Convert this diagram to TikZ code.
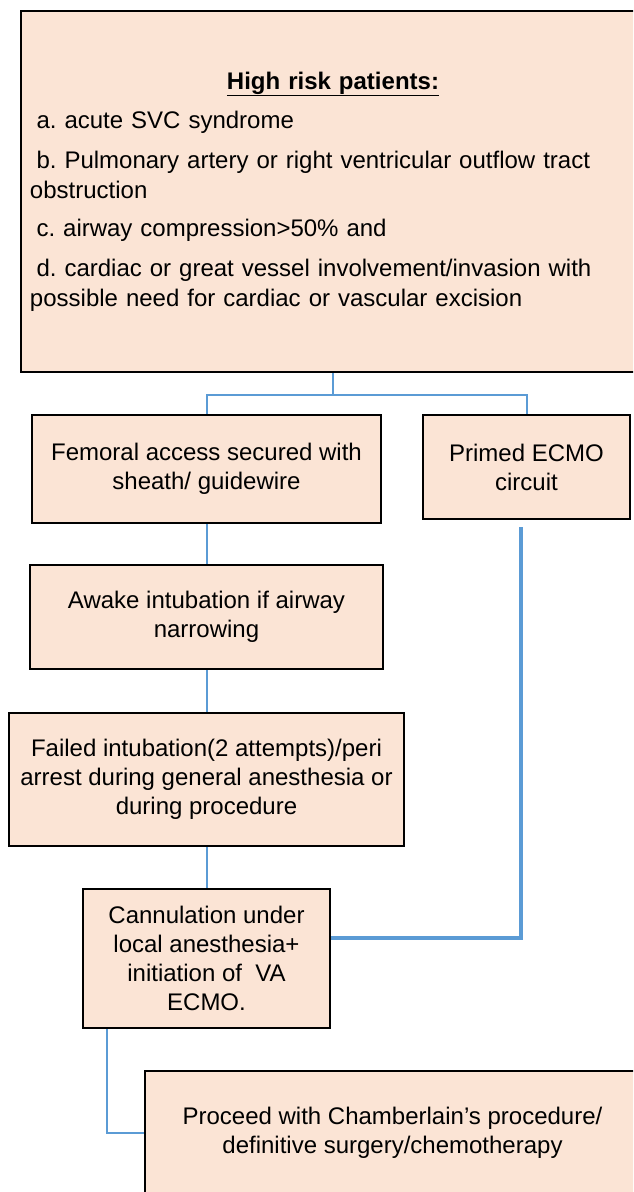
\documentclass[tikz,border=0pt]{standalone}
\usepackage{fontspec}
\setmainfont{Liberation Sans}
\frenchspacing
\definecolor{boxpeach}{RGB}{251,228,213}
\definecolor{linkblue}{RGB}{91,155,213}
\usetikzlibrary{calc, positioning}

\begin{document}
\begin{tikzpicture}[
  x=1pt, y=-1pt,
  stepbox/.style={draw=black, line width=2.2pt, fill=boxpeach,
    align=center, inner sep=4pt, font=\fontsize{24}{29}\selectfont},
  link/.style={draw=linkblue, line width=2pt},
  ecmolink/.style={draw=linkblue, line width=3.5pt},
]
\useasboundingbox (0,0) rectangle (633,1192);
\clip (0,0) rectangle (633,1192);

% Indications
\node[stepbox, align=left, text width=606pt, inner xsep=9pt,
      font=\fontsize{24}{30}\selectfont,
      minimum width=624pt, minimum height=361pt] (risk) at (333,191.5) {%
  \makebox[\hsize][c]{\textbf{\underline{High risk patients:}}}\\[9pt]
  \hspace*{6.5pt}a. acute SVC syndrome\\[10pt]
  \hspace*{6.5pt}b. Pulmonary artery or right ventricular outflow tract\\
  obstruction\\[8pt]
  \hspace*{6.5pt}c. airway compression>50\% and\\[10pt]
  \hspace*{6.5pt}d. cardiac or great vessel involvement/invasion with\\
  possible need for cardiac or vascular excision};

% Preparation
\node[stepbox, minimum width=349pt, minimum height=108pt] (femoral) at (206.5,469)
  {Femoral access secured with\\sheath/ guidewire};
\node[stepbox, minimum width=207pt, minimum height=104pt] (ecmo) at (526.5,467)
  {Primed ECMO\\circuit};

% Airway
\node[stepbox, minimum width=353pt, minimum height=104pt] (awake) at (206.5,617)
  {Awake intubation if airway\\narrowing};
\node[stepbox, minimum width=395pt, minimum height=133pt] (failed) at (206.5,779.5)
  {Failed intubation(2 attempts)/peri\\arrest during general anesthesia or\\during procedure};

% Rescue
\node[stepbox, minimum width=247pt, minimum height=139pt] (cannul) at (206.5,958.5)
  {Cannulation under\\local anesthesia+\\initiation of\ \ VA\\ECMO.};
\node[stepbox, minimum width=495pt, minimum height=124pt] (proceed) at (392.5,1133)
  {Proceed with Chamberlain’s procedure/\\definitive surgery/chemotherapy};

% Connectors
\coordinate (split) at ($(risk.south)+(0,21.5)$);
\draw[link] (risk.south) -- (split);
\draw[link] (split) -| (femoral.north);
\draw[link] (split) -| (ecmo.north);
\draw[link] (femoral.south) -- (awake.north);
\draw[link] (awake.south) -- (failed.north);
\draw[link] (failed.south) -- (cannul.north);

% ECMO circuit feed
\coordinate (ecmofeed) at (521,527);
\draw[ecmolink] (ecmofeed) |- ([yshift=20.5pt]cannul.east);
\draw[link] ([xshift=25pt]cannul.south west) |- (proceed.west);
\end{tikzpicture}
\end{document}
